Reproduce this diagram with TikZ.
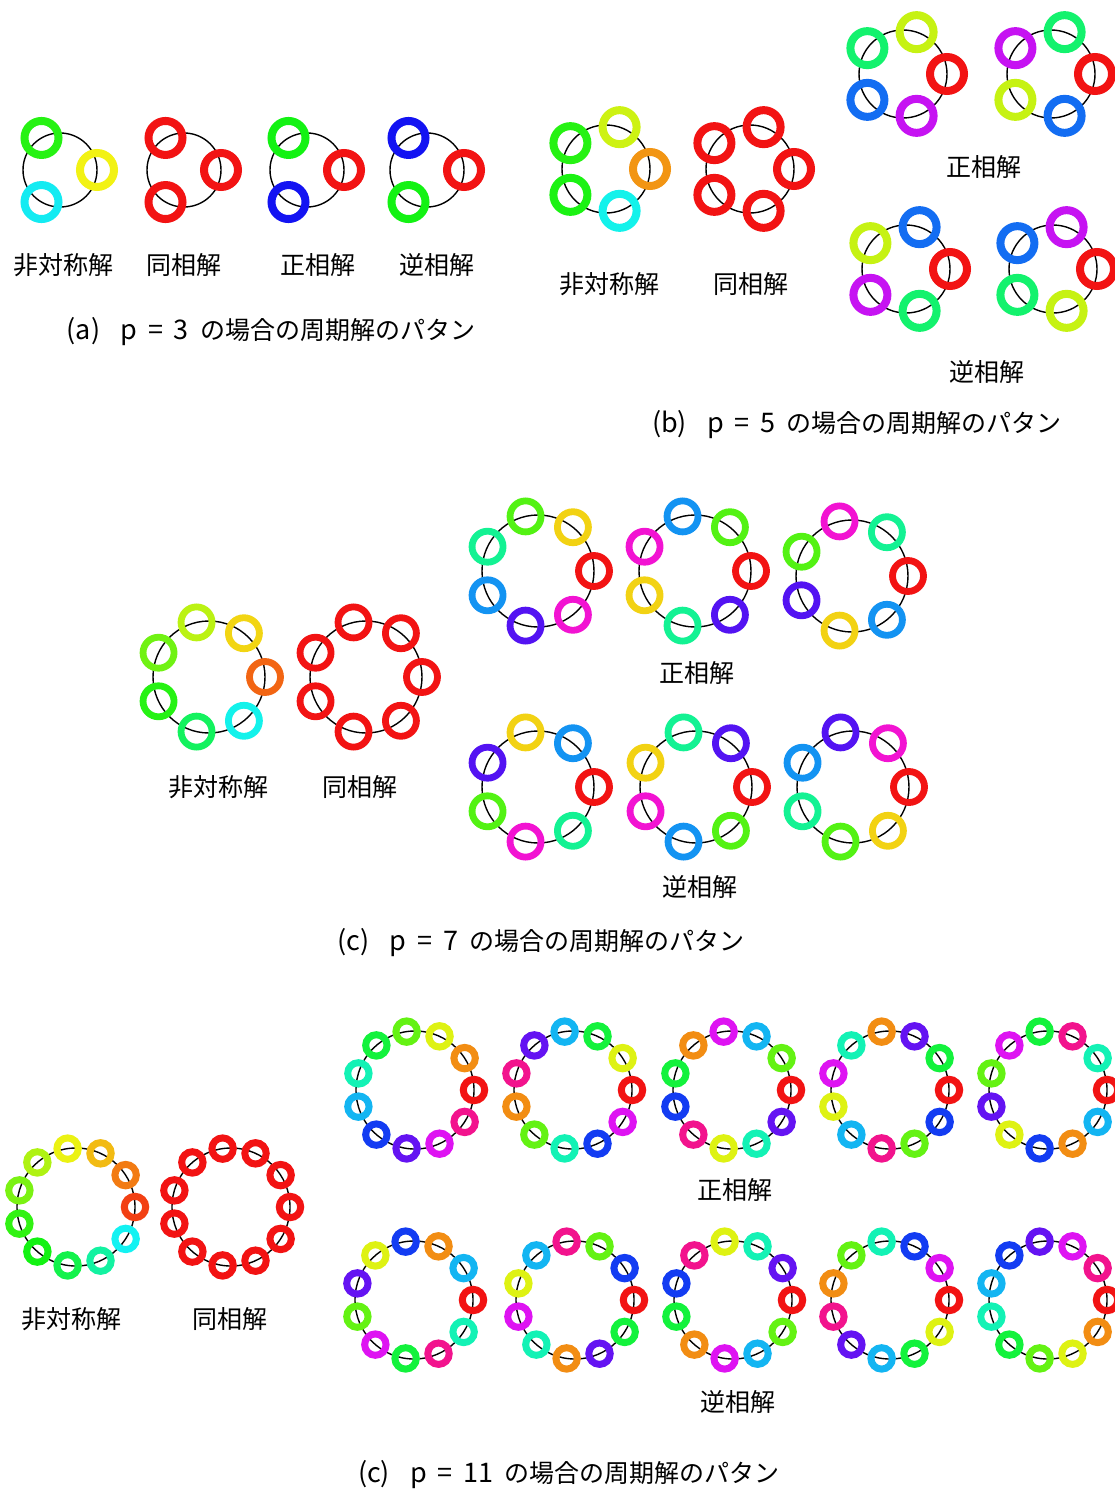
\PassOptionsToPackage{rgb}{xcolor}
\documentclass[tikz,border=0pt]{standalone}
\usepackage{fontspec}
\setmainfont{Noto Sans CJK JP}
\usepackage{tikz}

\tikzset{
  orbit/.style={line width=1.4pt, black},
  osc3/.style={line width=8pt, radius=17pt},
  osc7/.style={line width=6.8pt, radius=15.5pt},
  osc11/.style={line width=7pt, radius=10.7pt},
  lbl/.style={font=\fontsize{25}{30}\selectfont, inner sep=0pt},
}

% symmetric pattern: x, y, R, p, m, ring style
\newcommand{\phasepattern}[6]{%
  \draw[orbit] (#1,#2) circle (#3pt);
  \foreach \k in {1,...,#4} {
    \pgfmathsetmacro{\ang}{360*(\k-1)/#4}
    \pgfmathsetmacro{\hue}{360*mod(#5*(\k-1),#4)/#4}
    \definecolor{oscol}{Hsb}{\hue,0.92,0.95}
    \draw[#6, draw=oscol] ({#1+#3*cos(\ang)},{#2-#3*sin(\ang)}) circle;
  }
}

% asymmetric pattern: x, y, R, p, ring style, hues
\newcommand{\asympattern}[6]{%
  \draw[orbit] (#1,#2) circle (#3pt);
  \foreach \hue [count=\k from 0] in {#6} {
    \pgfmathsetmacro{\ang}{360*\k/#4}
    \definecolor{oscol}{Hsb}{\hue,0.92,0.95}
    \draw[#5, draw=oscol] ({#1+#3*cos(\ang)},{#2-#3*sin(\ang)}) circle;
  }
}

% caption text
\newcommand{\patcap}[2]{{\fontsize{27}{30}\selectfont(#1)\hspace{0.75em}p\hspace{0.4em}=\hspace{0.4em}#2}\hspace{0.45em}の場合の周期解のパタン}

\begin{document}
\begin{tikzpicture}[x=1pt, y=-1pt]

  \useasboundingbox[fill=white] (0,0) rectangle (1115,1493);

  % (a) p = 3
  \asympattern{60}{170}{37}{3}{osc3}{60,115,182}
  \phasepattern{184}{170}{37}{3}{0}{osc3}
  \phasepattern{307}{170}{37}{3}{1}{osc3}
  \phasepattern{427}{170}{37}{3}{2}{osc3}

  \node[lbl] (asym3) at (63,265) {非対称解};
  \node[lbl] (same3) at (184,265) {同相解};
  \node[lbl] (fwd3) at (318,265) {正相解};
  \node[lbl] (rev3) at (437,265) {逆相解};
  \node[lbl] (cap3) at (271,332) {\patcap{a}{3}};

  % (b) p = 5
  \asympattern{606}{169}{44}{5}{osc3}{35,70,115,118,178}
  \phasepattern{750}{169}{44}{5}{0}{osc3}
  \phasepattern{903}{74}{44}{5}{1}{osc3}
  \phasepattern{1051}{74}{44}{5}{2}{osc3}
  \phasepattern{906}{269}{44}{5}{3}{osc3}
  \phasepattern{1053}{269}{44}{5}{4}{osc3}

  \node[lbl] (asym5) at (609,284) {非対称解};
  \node[lbl] (same5) at (751,284) {同相解};
  \node[lbl] (fwd5) at (984,167) {正相解};
  \node[lbl] (rev5) at (987,372) {逆相解};
  \node[lbl] (cap5) at (857,425) {\patcap{b}{5}};

  % (c) p = 7
  \asympattern{209}{677}{56}{7}{osc7}{22,52,75,95,115,140,178}
  \phasepattern{366}{677}{56}{7}{0}{osc7}
  \phasepattern{538}{571}{56}{7}{1}{osc7}
  \phasepattern{695}{571}{56}{7}{2}{osc7}
  \phasepattern{852}{576}{56}{7}{3}{osc7}
  \phasepattern{538}{787}{56}{7}{4}{osc7}
  \phasepattern{696}{787}{56}{7}{5}{osc7}
  \phasepattern{853}{787}{56}{7}{6}{osc7}

  \node[lbl] (asym7) at (218,787) {非対称解};
  \node[lbl] (same7) at (360,787) {同相解};
  \node[lbl] (fwd7) at (697,673) {正相解};
  \node[lbl] (rev7) at (700,887) {逆相解};
  \node[lbl] (cap7) at (541,943) {\patcap{c}{7}};

  % (c) p = 11
  \asympattern{76}{1207}{59}{11}{osc11}{12,28,45,62,78,92,112,120,135,158,180}
  \phasepattern{231}{1207}{59}{11}{0}{osc11}
  \foreach \cx [count=\m] in {415,573,732,890,1048} {
    \phasepattern{\cx}{1090}{59}{11}{\m}{osc11}
  }
  \foreach \cx [count=\m from 6] in {414,575,733,890,1048} {
    \phasepattern{\cx}{1300}{59}{11}{\m}{osc11}
  }

  \node[lbl] (asym11) at (71,1319) {非対称解};
  \node[lbl] (same11) at (230,1319) {同相解};
  \node[lbl] (fwd11) at (735,1190) {正相解};
  \node[lbl] (rev11) at (738,1402) {逆相解};
  \node[lbl] (cap11) at (569,1475) {\patcap{c}{11}};

\end{tikzpicture}
\end{document}
